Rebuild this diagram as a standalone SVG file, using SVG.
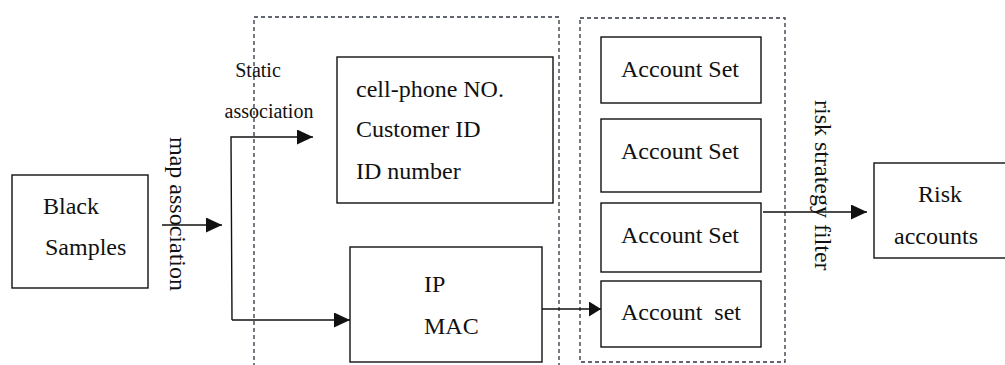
<svg xmlns="http://www.w3.org/2000/svg" width="1005" height="365" viewBox="0 0 1005 365">
  <style>
    .box { fill: #ffffff; stroke: #111111; stroke-width: 1.4; }
    .group { fill: none; stroke: #2e3440; stroke-width: 1.3; stroke-dasharray: 4 3; }
    .wire { fill: none; stroke: #111111; stroke-width: 1.4; }
    text { font-family: "Liberation Serif", "DejaVu Serif", "Times New Roman", serif; font-size: 24px; fill: #111111; white-space: pre; }
    .small { font-size: 20px; }
  </style>
  <defs>
    <marker id="arrow" markerUnits="userSpaceOnUse" markerWidth="17" markerHeight="16" refX="16" refY="7.5" orient="auto">
      <path d="M0,0 L16,7.5 L0,15 Z" fill="#111111"/>
    </marker>
    <marker id="arrowSmall" markerUnits="userSpaceOnUse" markerWidth="13" markerHeight="16" refX="12" refY="7.5" orient="auto">
      <path d="M0,0 L12,7.5 L0,15 Z" fill="#111111"/>
    </marker>
  </defs>

  <rect width="1005" height="365" fill="#ffffff"/>

  <!-- dashed grouping frames -->
  <g id="groups">
    <rect class="group" x="254" y="17" width="305" height="360"/>
    <rect class="group" x="580" y="18" width="205" height="344"/>
  </g>

  <!-- connectors -->
  <g id="connectors">
    <line class="wire" x1="162" y1="225" x2="222" y2="225" marker-end="url(#arrow)"/>
    <path class="wire" d="M232,320 L231,137 L313,137" marker-end="url(#arrow)"/>
    <line class="wire" x1="232" y1="320" x2="350" y2="320" marker-end="url(#arrow)"/>
    <line class="wire" x1="542" y1="309" x2="601" y2="309" marker-end="url(#arrowSmall)"/>
    <line class="wire" x1="763" y1="212" x2="867" y2="212" marker-end="url(#arrow)"/>
  </g>

  <!-- nodes -->
  <g id="black-samples" font-family="Liberation Serif, serif">
    <rect class="box" x="12" y="175" width="136" height="113"/>
    <text x="43" y="214">Black</text>
    <text x="45" y="255">Samples</text>
  </g>

  <g id="static-keys">
    <rect class="box" x="337" y="57" width="216" height="146"/>
    <text x="356" y="97">cell-phone NO.</text>
    <text x="356" y="137">Customer ID</text>
    <text x="356" y="179">ID number</text>
  </g>

  <g id="device-keys">
    <rect class="box" x="350" y="247" width="192" height="115"/>
    <text x="424" y="292">IP</text>
    <text x="424" y="334">MAC</text>
  </g>

  <g id="account-set-1">
    <rect class="box" x="601" y="37" width="160" height="66"/>
    <text x="621" y="77">Account Set</text>
  </g>
  <g id="account-set-2">
    <rect class="box" x="601" y="119" width="160" height="73"/>
    <text x="621" y="159">Account Set</text>
  </g>
  <g id="account-set-3">
    <rect class="box" x="601" y="203" width="160" height="69"/>
    <text x="621" y="243">Account Set</text>
  </g>
  <g id="account-set-4">
    <rect class="box" x="601" y="281" width="160" height="66"/>
    <text x="621" y="320">Account  set</text>
  </g>

  <g id="risk-accounts">
    <rect class="box" x="874" y="163" width="140" height="95"/>
    <text x="918" y="202">Risk</text>
    <text x="894" y="244">accounts</text>
  </g>

  <!-- connector labels -->
  <g id="labels">
    <text class="small" x="258" y="77" text-anchor="middle">Static</text>
    <text class="small" x="269" y="118" text-anchor="middle">association</text>
    <text transform="translate(170,137) rotate(90)">map association</text>
    <text transform="translate(815,100) rotate(90)">risk strategy filter</text>
  </g>
</svg>
